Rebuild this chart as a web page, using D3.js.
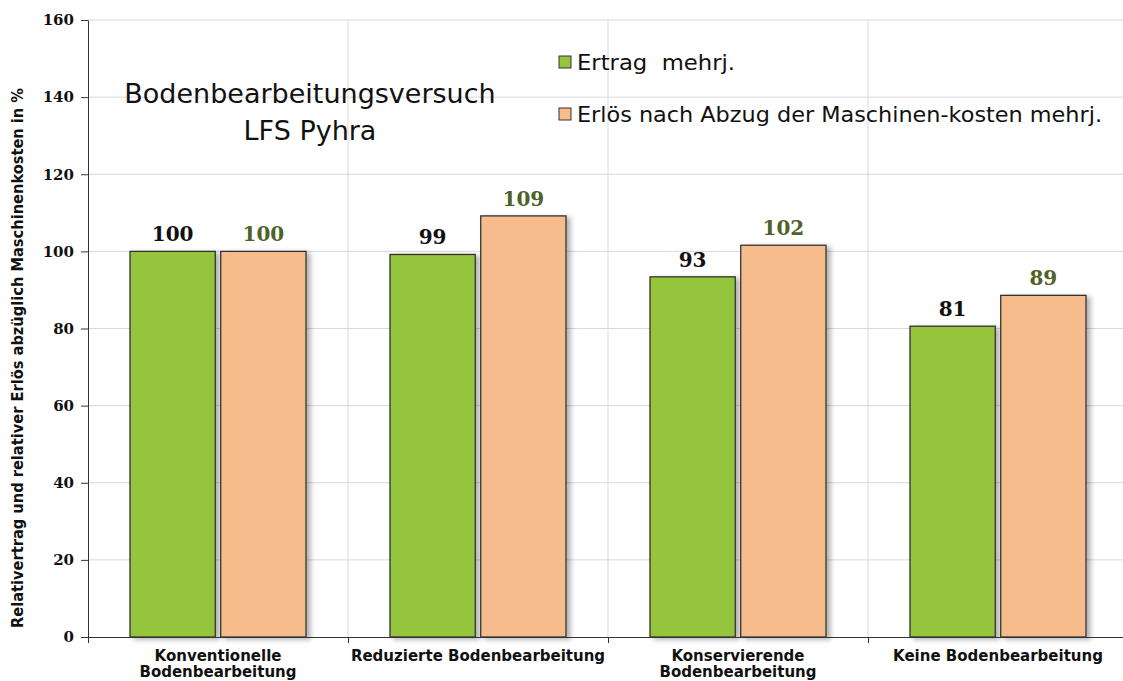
<!DOCTYPE html>
<html><head><meta charset="utf-8">
<script src="https://cdn.jsdelivr.net/npm/d3@7"></script>
<style>body{margin:0;background:#fff;} svg{display:block;}</style>
</head><body>
<svg id="c" width="1123" height="681"></svg>
<script>
const categories = [["Konventionelle","Bodenbearbeitung"],["Reduzierte Bodenbearbeitung"],["Konservierende","Bodenbearbeitung"],["Keine Bodenbearbeitung"]];
const seriesNames = ["Ertrag  mehrj.","Erlös nach Abzug der Maschinen-kosten mehrj."];
const ertrag = [100, 99.2, 93.4, 80.6];
const erloes = [100, 109.2, 101.6, 88.6];
const yTicks = [0,20,40,60,80,100,120,140,160];
const colors = ["#95c43d","#f7bc8b"];
const labelColors = ["#111111","#4f6228"];

const svg = d3.select("#c");
const m = {l:88, t:20, b:44};
const W = 1040, H = 681 - m.t - m.b;
const defs = svg.append("defs");
const f = defs.append("filter").attr("id","sh").attr("x","-10%").attr("y","-10%").attr("width","130%").attr("height","130%");
f.append("feDropShadow").attr("dx",4).attr("dy",2).attr("stdDeviation",2.5).attr("flood-color","#000").attr("flood-opacity",0.3);

const g = svg.append("g").attr("transform",`translate(${m.l},${m.t})`);
const x0 = d3.scaleBand().domain(d3.range(categories.length)).range([0,W]).paddingInner(0).paddingOuter(0);
const x1 = d3.scaleBand().domain([0,1]).range([42, 260-42]).paddingInner(0.06);
const y = d3.scaleLinear().domain([0,160]).range([H,0]);

// grid
g.selectAll(".hg").data(yTicks.filter(d=>d>0)).join("line")
  .attr("x1",0).attr("x2",W).attr("y1",d=>y(d)).attr("y2",d=>y(d))
  .attr("stroke","#d9d9d9").attr("stroke-width",1);
g.selectAll(".vg").data(d3.range(1,categories.length)).join("line")
  .attr("x1",d=>x0(d)).attr("x2",d=>x0(d)).attr("y1",0).attr("y2",H)
  .attr("stroke","#d9d9d9").attr("stroke-width",1);

// bars
const series = [ertrag, erloes];
series.forEach((vals,si)=>{
  g.selectAll(".b"+si).data(vals).join("rect")
    .attr("x",(d,i)=>x0(i)+x1(si)).attr("width",x1.bandwidth())
    .attr("y",d=>y(d)).attr("height",d=>H-y(d))
    .attr("fill",colors[si]).attr("stroke","#333").attr("stroke-width",1.3)
    .attr("filter","url(#sh)");
  g.selectAll(".l"+si).data(vals).join("text")
    .attr("x",(d,i)=>x0(i)+x1(si)+x1.bandwidth()/2).attr("y",d=>y(d)-10)
    .attr("text-anchor","middle").attr("font-family","DejaVu Serif").attr("font-weight","bold")
    .attr("font-size",20).attr("fill",labelColors[si]).text(d=>Math.round(d));
});

// y axis
const ya = g.append("g").call(d3.axisLeft(y).tickValues(yTicks).tickSize(7).tickSizeOuter(0));
ya.select(".domain").attr("stroke","#333");
ya.selectAll(".tick line").attr("stroke","#333");
ya.selectAll("text").attr("font-family","DejaVu Serif").attr("font-weight","bold").attr("font-size",15).attr("fill","#111").attr("dx",-4);

// x axis
const xa = g.append("g").attr("transform",`translate(0,${H})`)
  .call(d3.axisBottom(d3.scaleLinear().domain([0,4]).range([0,W])).tickValues([0,1,2,3]).tickSize(6).tickFormat(""));
xa.select(".domain").attr("stroke","#333");
xa.selectAll(".tick line").attr("stroke","#333");
categories.forEach((lines,i)=>{
  const t = g.append("text").attr("x",x0(i)+x0.bandwidth()/2).attr("y",H+24)
    .attr("text-anchor","middle").attr("font-family","DejaVu Sans").attr("font-weight","bold")
    .attr("font-size",15).attr("fill","#111");
  lines.forEach((ln,j)=>t.append("tspan").attr("x",x0(i)+x0.bandwidth()/2).attr("dy",j?16:0).text(ln));
});

// y title
svg.append("text").attr("transform","translate(23,358) rotate(-90)").attr("text-anchor","middle")
  .attr("font-family","DejaVu Sans Condensed, DejaVu Sans").attr("font-weight","bold").attr("font-size",15)
  .attr("textLength",540).attr("lengthAdjust","spacingAndGlyphs")
  .attr("fill","#111").text("Relativertrag und relativer Erlös abzüglich Maschinenkosten in %");

// title
const tt = svg.append("text").attr("text-anchor","middle").attr("font-family","DejaVu Sans").attr("font-size",27).attr("fill","#111");
tt.append("tspan").attr("x",310).attr("y",103).text("Bodenbearbeitungsversuch");
tt.append("tspan").attr("x",310).attr("y",140).text("LFS Pyhra");

// legend
const legW = [158, 525];
seriesNames.forEach((n,i)=>{
  const ly = 62 + i*52;
  svg.append("rect").attr("x",559).attr("y",ly-6).attr("width",12).attr("height",12)
    .attr("fill",colors[i]).attr("stroke","#333").attr("stroke-width",1);
  svg.append("text").attr("x",577).attr("y",ly+8).attr("font-family","DejaVu Sans")
    .attr("font-size",21).attr("fill","#111").style("white-space","pre")
    .attr("textLength",legW[i]).attr("lengthAdjust","spacingAndGlyphs").text(n);
});
</script>
</body></html>
